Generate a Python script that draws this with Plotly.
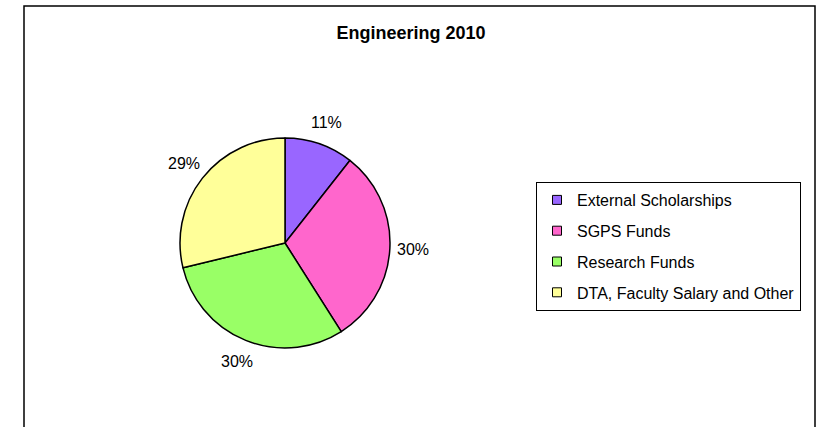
import math
import plotly.graph_objects as go

labels = ["External Scholarships", "SGPS Funds", "Research Funds", "DTA, Faculty Salary and Other"]
shares = [10.6, 30.4, 30.2, 28.8]
colors = ["#9966FF", "#FF66CC", "#99FF66", "#FFFF99"]

W, H = 822, 427
cx, cy, R = 285, 243, 105

fig = go.Figure()
fig.add_trace(go.Pie(
    labels=labels,
    values=shares,
    sort=False,
    direction="clockwise",
    rotation=0,
    marker=dict(colors=colors, line=dict(color="black", width=1.5)),
    textinfo="none",
    showlegend=False,
    domain=dict(x=[(cx - R) / W, (cx + R) / W], y=[1 - (cy + R) / H, 1 - (cy - R) / H]),
    hoverinfo="label+percent",
))

# legend entries as small square markers
for name, col in zip(labels, colors):
    fig.add_trace(go.Scatter(
        x=[None], y=[None], mode="markers", name=name, legendgroup=name,
        marker=dict(symbol="square", size=9, color=col, line=dict(color="black", width=1)),
    ))

# percent labels outside the slices, placed at each slice's mid angle
total = sum(shares)
start = 0
for v in shares:
    mid = (start + v / 2) / total * 2 * math.pi
    start += v
    r = R + 23
    fig.add_annotation(
        x=(cx + r * math.sin(mid)) / W, y=1 - (cy - r * math.cos(mid)) / H,
        xref="paper", yref="paper", xanchor="center", yanchor="middle",
        text=f"{round(v / total * 100)}%",
        showarrow=False, font=dict(size=16, family="Arial", color="black"),
    )

fig.update_layout(
    width=W, height=H,
    margin=dict(l=0, r=0, t=0, b=0),
    paper_bgcolor="white", plot_bgcolor="white",
    font=dict(family="Arial", color="black"),
    xaxis=dict(visible=False), yaxis=dict(visible=False),
    title=dict(text="<b>Engineering 2010</b>", x=411 / W, xanchor="center",
               y=1 - 33 / H, yanchor="middle", font=dict(size=18, family="Arial")),
    legend=dict(x=536 / W, y=1 - 182 / H, xanchor="left", yanchor="top",
                bordercolor="black", borderwidth=1, bgcolor="white",
                traceorder="grouped", tracegroupgap=7,
                font=dict(size=16, family="Arial")),
    shapes=[dict(type="rect", xref="paper", yref="paper",
                 x0=24 / W, x1=815 / W, y0=-0.1, y1=1 - 6 / H,
                 line=dict(color="black", width=1.5), layer="below")],
)

fig.write_html("out.html", config={"displayModeBar": False},
               post_script="document.body.style.margin='0';")
